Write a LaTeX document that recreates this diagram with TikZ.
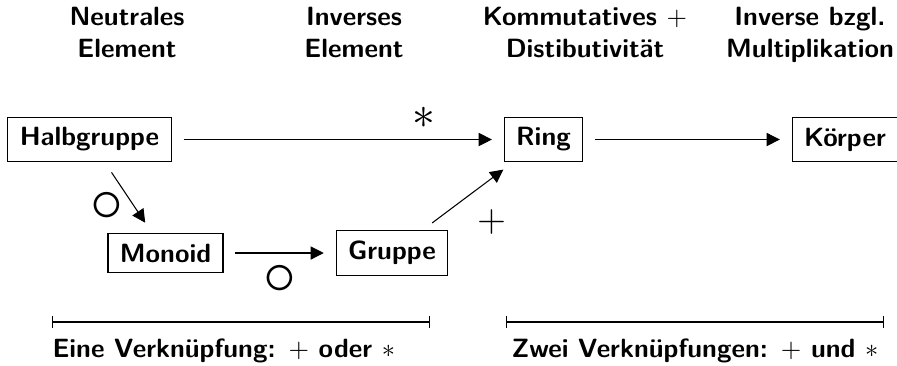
\documentclass[tikz,border=0pt]{standalone}
\usepackage{amsmath,amssymb}
\usepackage{xcolor}
\usepackage{tikz}
\usetikzlibrary{arrows.meta,positioning}
\tikzset{
  algebra/.style={
    draw,
    inner xsep=4.5pt,
    inner ysep=4pt,
    font=\sffamily\bfseries
  },
  header/.style={
    align=center,
    inner sep=0pt,
    anchor=north,
    font=\sffamily\bfseries
  },
  note/.style={
    inner sep=0pt,
    anchor=base,
    font=\sffamily\bfseries
  },
  flow/.style={-{Triangle[length=5pt,width=5pt]}, shorten >=4.5pt, shorten <=4.5pt},
  span/.style={|-|}
}

\begin{document}
\begin{tikzpicture}[x=0.3788pt, y=-0.3788pt]
  \useasboundingbox (0,0) rectangle (897,365);

  % Ueberschriften
  \node[header] (neutral) at (127,7) {Neutrales\\Element};
  \node[header] (invers) at (354,7) {Inverses\\Element};
  \node[header] (distrib) at (585,7) {Kommutatives $+$\\Distibutivität};
  \node[header] (mult) at (810,7) {Inverse bzgl.\\Multiplikation};

  % Strukturen
  \node[algebra] (halb) at (89.5,139.5) {Halbgruppe};
  \node[algebra] (ring) at (543.5,139.5) {Ring};
  \node[algebra] (koerper) at (845,139.5) {Körper};
  \node[algebra] (monoid) at (165.5,253) {Monoid};
  \node[algebra] (gruppe) at (392,253) {Gruppe};

  \draw[flow] (halb) -- node[pos=0.76, above, yshift=0.5pt] {\LARGE$\ast$} (ring);
  \draw[flow] (ring) -- (koerper);
  \draw[flow] (halb) -- node[pos=0.64, left=1pt] {\Huge$\circ$} (monoid);
  \draw[flow] (monoid) -- node[below, yshift=-1pt] {\Huge$\circ$} (gruppe);
  \draw[flow] (gruppe) -- node[pos=0.5, below right, yshift=-1.5pt] {\Large$+$} (ring);

  % Bereiche
  \coordinate (einsA) at (52,322);
  \coordinate (einsB) at (430,322);
  \coordinate (zweiA) at (506,322);
  \coordinate (zweiB) at (884,322);
  \draw[span] (einsA) -- (einsB);
  \draw[span] (zweiA) -- (zweiB);
  \node[note, anchor=base west] (eins) at (52,357) {Eine Verknüpfung: $+$ oder $\ast$};
  \node[note] (zwei) at (695,357) {Zwei Verknüpfungen: $+$ und $\ast$};
\end{tikzpicture}
\end{document}
